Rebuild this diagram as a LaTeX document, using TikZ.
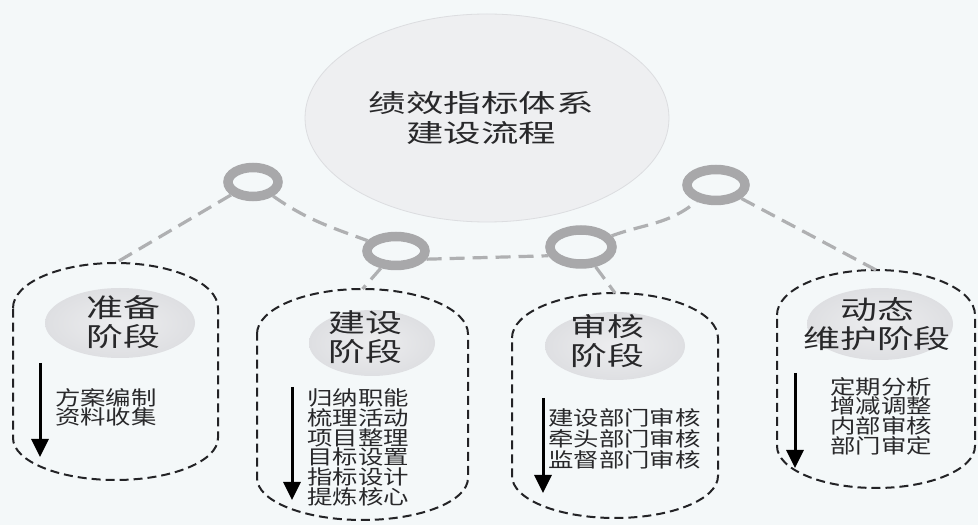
\documentclass[tikz,border=0pt]{standalone}
\usepackage{fontspec}
\usetikzlibrary{shapes.geometric,arrows.meta}
\newfontfamily\cjklist[FakeStretch=1.27]{Noto Sans CJK SC}
\newfontfamily\cjktitle[FakeStretch=1.42]{Noto Sans CJK SC}
\newfontfamily\cjkmain[FakeStretch=1.5]{Noto Sans CJK SC}
\definecolor{bgc}{RGB}{244,248,249}
\definecolor{ringc}{RGB}{168,168,170}
\definecolor{connc}{RGB}{175,176,178}
\definecolor{boxc}{RGB}{35,35,38}
\definecolor{txtc}{RGB}{40,40,42}
\definecolor{ovalc}{RGB}{222,223,226}
\definecolor{bigc}{RGB}{238,239,241}
\definecolor{bigedge}{RGB}{220,221,224}
\begin{document}
\begin{tikzpicture}[x=1pt,y=1pt,
 ring/.style={ellipse,draw=ringc,line width=9.5pt,fill=bgc,inner sep=0pt},
 conn/.style={draw=connc,line width=3.2pt,dash pattern=on 15pt off 8pt},
 stagebox/.style={draw=boxc,line width=2pt,dash pattern=on 9pt off 5pt},
 oval/.style={ellipse,inner sep=0pt,shading=radial,inner color=ovalc!55!white,outer color=ovalc},
 stagetitle/.style={font=\cjktitle\fontsize{26}{29}\selectfont,text=txtc,align=center,inner sep=0pt},
 listtext/.style={font=\cjklist\fontsize{20}{19.7}\selectfont,text=txtc,align=left,inner sep=0pt,anchor=west},
 flow/.style={line width=3pt,draw=black,-{Triangle[width=17pt,length=18pt]}}
]
\fill[bgc] (0,0) rectangle (978,525);
\useasboundingbox (0,0) rectangle (978,525);

% central ellipse
\node[ellipse,minimum width=364pt,minimum height=208pt,fill=bigc,draw=bigedge,line width=0.8pt,inner sep=0pt] (top) at (487,407) {};
\node[font=\cjkmain\fontsize{25}{30}\selectfont,align=center,text=txtc,inner sep=0pt] (toptext) at (481,407) {绩效指标体系\\建设流程};

% stage boxes (half-ellipse caps, straight sides)
\draw[stagebox] (13,217) arc[start angle=180,end angle=0,x radius=102.5,y radius=45] -- (218,87) arc[start angle=0,end angle=-180,x radius=102.5,y radius=42] -- cycle;
\coordinate (b1top) at (115.5,262);
\draw[stagebox] (257,191) arc[start angle=180,end angle=0,x radius=105.5,y radius=45] -- (468,47) arc[start angle=0,end angle=-180,x radius=105.5,y radius=42] -- cycle;
\coordinate (b2top) at (362.5,236);
\draw[stagebox] (512,187) arc[start angle=180,end angle=0,x radius=103,y radius=45] -- (718,49) arc[start angle=0,end angle=-180,x radius=103,y radius=42] -- cycle;
\coordinate (b3top) at (615,232);
\draw[stagebox] (777,210) arc[start angle=180,end angle=0,x radius=99,y radius=45] -- (975,79) arc[start angle=0,end angle=-180,x radius=99,y radius=42] -- cycle;
\coordinate (b4top) at (876,255);

% rings
\node[ring,minimum width=50pt,minimum height=29pt] (r1) at (253,343) {};
\node[ring,minimum width=58pt,minimum height=29pt] (r2) at (396,274) {};
\node[ring,minimum width=62pt,minimum height=34pt] (r3) at (581,278) {};
\node[ring,minimum width=58pt,minimum height=31pt] (r4) at (716,340) {};

% connectors
\draw[conn] (r1) -- (b1top);
\draw[conn] (r1) to[out=-35,in=160] (r2);
\draw[conn] (r2.-15) -- (r3.195);
\draw[conn] (r2) -- (b2top);
\draw[conn] (r3) -- (b3top);
\draw[conn] (r3) to[out=20,in=220] (r4);
\draw[conn] (r4) -- (b4top);

% stage title ovals
\node[oval,minimum width=150pt,minimum height=70pt] (o1) at (120,202) {};
\node[stagetitle] (t1) at (123,202.5) {准备\\阶段};
\node[oval,minimum width=126pt,minimum height=66pt] (o2) at (372,182) {};
\node[stagetitle] (t2) at (365,187.5) {建设\\阶段};
\node[oval,minimum width=140pt,minimum height=68pt] (o3) at (615,179) {};
\node[stagetitle] (t3) at (607,184) {审核\\阶段};
\node[oval,minimum width=146pt,minimum height=72pt] (o4) at (880,201) {};
\node[stagetitle] (t4) at (877,201) {动态\\维护阶段};

% arrows
\coordinate (a1s) at (40,162); \coordinate (a1e) at (40,68);
\coordinate (a2s) at (292,138); \coordinate (a2e) at (292,25);
\coordinate (a3s) at (543,127); \coordinate (a3e) at (543,32);
\coordinate (a4s) at (795,152); \coordinate (a4e) at (795,57);
\draw[flow] (a1s) -- (a1e);
\draw[flow] (a2s) -- (a2e);
\draw[flow] (a3s) -- (a3e);
\draw[flow] (a4s) -- (a4e);

% lists
\node[listtext] (l1) at (55,117.5) {方案编制\\资料收集};
\node[listtext] (l2) at (307,77.5) {归纳职能\\梳理活动\\项目整理\\目标设置\\指标设计\\提炼核心};
\node[listtext,font=\cjklist\fontsize{20}{21}\selectfont] (l3) at (548,86) {建设部门审核\\牵头部门审核\\监督部门审核};
\node[listtext] (l4) at (830,109) {定期分析\\增减调整\\内部审核\\部门审定};
\end{tikzpicture}
\end{document}
